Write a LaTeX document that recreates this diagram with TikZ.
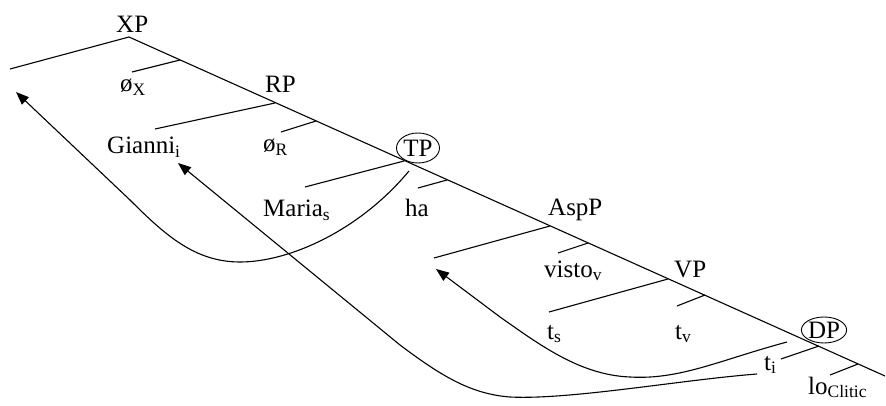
\documentclass[tikz,border=0pt]{standalone}
\usepackage{fontspec}
\setmainfont{Liberation Serif}
\usetikzlibrary{arrows.meta,shapes.geometric}
\tikzset{
  lab/.style={anchor=base west,inner sep=0pt,font=\fontsize{25}{30}\selectfont},
  circ/.style={ellipse,draw,line width=0.9pt,inner sep=0pt,font=\fontsize{25}{30}\selectfont},
  br/.style={line width=1.1pt},
  mv/.style={line width=1.1pt,-{Triangle[length=13pt,width=10pt]}}
}
\begin{document}
\begin{tikzpicture}[x=1pt,y=-1pt]
\useasboundingbox (0,0) rectangle (886,406);
% spine and branch points
\coordinate (xp) at (129,37);
\coordinate (spend) at (885,376);
\coordinate (xl) at (10,69);
\coordinate (oxs) at (180,60);   \coordinate (oxe) at (132,72);
\coordinate (rp) at (275,103);   \coordinate (rl) at (155,129);
\coordinate (ors) at (316,121);  \coordinate (ore) at (281,132);
\coordinate (tp) at (404,161);   \coordinate (tl) at (305,187);
\coordinate (has) at (447,180);  \coordinate (hae) at (418,188);
\coordinate (asp) at (550,226);  \coordinate (al) at (434,258);
\coordinate (vis) at (588,243);  \coordinate (vie) at (558,253);
\coordinate (vp) at (668,279);   \coordinate (vl) at (549,312);
\coordinate (tvs) at (705,295);  \coordinate (tve) at (677,306);
\coordinate (dp) at (819,346);   \coordinate (dl) at (781,359);
\coordinate (los) at (858,364);  \coordinate (loe) at (830,375);
% arrow ends
\coordinate (a1s) at (409,171);  \coordinate (a1e) at (16,92);
\coordinate (a2s) at (757,374);  \coordinate (a2e) at (178,163);
\coordinate (a3s) at (787,342);  \coordinate (a3e) at (436,269);

\draw[br] (xl) -- (xp) -- (spend);
\draw[br] (oxs) -- (oxe);
\draw[br] (rp) -- (rl);
\draw[br] (ors) -- (ore);
\draw[br] (tp) -- (tl);
\draw[br] (has) -- (hae);
\draw[br] (asp) -- (al);
\draw[br] (vis) -- (vie);
\draw[br] (vp) -- (vl);
\draw[br] (tvs) -- (tve);
\draw[br] (dp) -- (dl);
\draw[br] (los) -- (loe);

% labels
\node[lab] (lxp) at (116,33) {XP};
\node[lab] (lox) at (120,92) {ø\textsubscript{X}};
\node[lab] (lrp) at (265,93) {RP};
\node[lab] (lgi) at (107,154) {Gianni\textsubscript{i}};
\node[lab] (lor) at (263,152) {ø\textsubscript{R}};
\node[circ,minimum width=43pt,minimum height=30pt] (ltp) at (418,148) {TP};
\node[lab] (lma) at (263,217) {Maria\textsubscript{s}};
\node[lab] (lha) at (405,217) {ha};
\node[lab] (lasp) at (548,216) {AspP};
\node[lab] (lvi) at (544,277) {visto\textsubscript{v}};
\node[lab] (lvp) at (674,277) {VP};
\node[lab] (lts) at (547,339) {t\textsubscript{s}};
\node[lab] (ltv) at (675,339) {t\textsubscript{v}};
\node[circ,minimum width=42pt,minimum height=26pt] (ldp) at (824,330) {DP};
\node[lab] (lti) at (764,370) {t\textsubscript{i}};
\node[lab] (llo) at (808,394) {lo\textsubscript{Clitic}};

% movement arrows
\draw[mv] (a1s) .. controls (360,230) and (290,262) .. (240,262)
  .. controls (195,262) and (165,235) .. (130,200) -- (a1e);
\draw[mv] (a2s) .. controls (680,380) and (570,400) .. (510,397)
  .. controls (470,394) and (440,375) .. (400,345) -- (a2e);
\draw[mv] (a3s) .. controls (720,360) and (680,380) .. (630,377)
  .. controls (580,375) and (540,345) .. (500,317) -- (a3e);
\end{tikzpicture}
\end{document}
